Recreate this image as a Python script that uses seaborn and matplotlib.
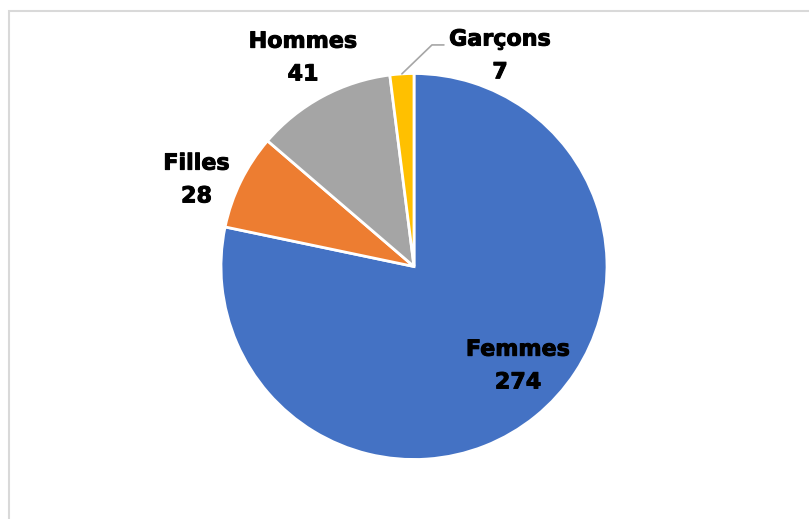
import numpy as np
import matplotlib
matplotlib.use("Agg")
import matplotlib.pyplot as plt
import matplotlib.patheffects as pe
import seaborn as sns
from matplotlib.patches import Rectangle

# Données du graphique
categories = ["Femmes", "Filles", "Hommes", "Garçons"]
valeurs = [274, 28, 41, 7]
couleurs = ["#4472C4", "#ED7D31", "#A5A5A5", "#FFC000"]

# Position des étiquettes (coordonnées du disque, rayon = 1)
pos_etiquettes = [(0.539, -0.516), (-1.127, 0.448), (-0.575, 1.080), (0.446, 1.091)]

sns.set_theme(style="white")
plt.rcParams['font.family'] = ['DejaVu Sans']

fig = plt.figure(figsize=(8.09, 5.19), dpi=100)

# Cadre gris clair (coupé à droite et en bas)
fig.patches.append(Rectangle((9 / 809, -0.2), 1.2, 1 - 11 / 519 + 0.2,
                             transform=fig.transFigure, fill=False,
                             edgecolor="#D9D9D9", linewidth=1.5))

cx, cy, r = 414, 266.5, 193
ax = fig.add_axes([(cx - r) / 809, (519 - cy - r) / 519, 2 * r / 809, 2 * r / 519])

wedges, _ = ax.pie(valeurs, colors=couleurs, startangle=90, counterclock=False,
                   radius=1, wedgeprops=dict(edgecolor="white", linewidth=2))
ax.set_xlim(-1, 1)
ax.set_ylim(-1, 1)
ax.set_aspect("equal")
ax.axis("off")

for cat, val, (lx, ly) in zip(categories, valeurs, pos_etiquettes):
    ax.text(lx, ly, f"{cat}\n{val}", ha="center", va="center", fontsize=16,
            fontweight="bold", color="black", linespacing=1.8, clip_on=False,
            path_effects=[pe.withStroke(linewidth=0.7, foreground="black")])

# Ligne de rappel pour Garçons
w = wedges[3]
ang = np.deg2rad((w.theta1 + w.theta2) / 2)
ax.plot([0.155, 0.093, np.cos(ang)], [1.148, 1.148, np.sin(ang)],
        color="#A6A6A6", linewidth=1.2, clip_on=False)

fig.savefig("out.png", dpi=100)
